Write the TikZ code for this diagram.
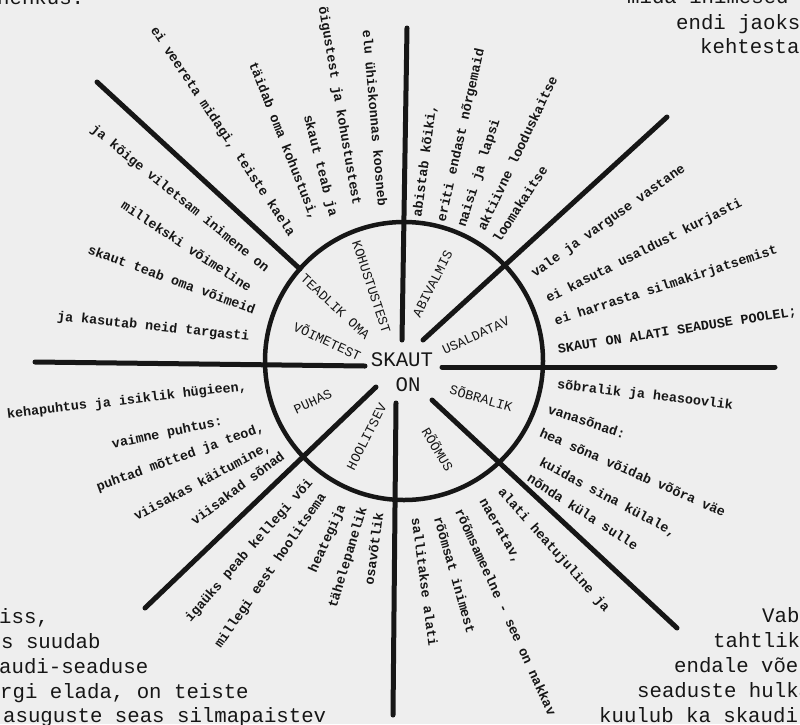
\documentclass[tikz,border=0pt]{standalone}
\usepackage{fontspec}
\newfontfamily\twmono{Liberation Mono}
\definecolor{bg}{HTML}{EEEEEE}
\definecolor{ink}{HTML}{161616}
\newcommand\twsmall{\twmono\fontsize{13.4}{15}\selectfont}
\newcommand\twbig{\twmono\fontsize{20.7}{25}\selectfont}
\begin{document}
\begin{tikzpicture}[x=1pt,y=-1pt,
 spoke/.style={line width=5pt,line cap=round,draw=ink},
 ring/.style={line width=4.5pt,draw=ink},
 lbl/.style={font=\twsmall\bfseries,text=ink,anchor=west,inner sep=0pt,text height=6.8pt,text depth=0pt},
 capl/.style={font=\twsmall,text=ink,anchor=center,inner sep=0pt,text height=8pt,text depth=0pt},
 bigc/.style={font=\twbig,text=ink,anchor=center,inner sep=0pt,text height=12.4pt,text depth=0pt},
 big/.style={font=\twbig,text=ink,anchor=base west,inner sep=0pt},
]
\fill[bg] (0,0) rectangle (800,724);
\useasboundingbox (0,0) rectangle (800,724);
\clip (0,0) rectangle (800,724);

% spoke end points
\coordinate (t1) at (407,28);  \coordinate (t2) at (402,340);
\coordinate (b1) at (396,403); \coordinate (b2) at (393,715);
\coordinate (l1) at (35,362);  \coordinate (l2) at (365,366);
\coordinate (r1) at (442,367); \coordinate (r2) at (775,367);
\coordinate (ul1) at (97,82);  \coordinate (ul2) at (300,269);
\coordinate (ur1) at (667,117); \coordinate (ur2) at (423,340);
\coordinate (ll1) at (145,608); \coordinate (ll2) at (376,387);
\coordinate (lr1) at (432,400); \coordinate (lr2) at (677,628);
\coordinate (ctr) at (404,361);

\draw[ring] (ctr) circle[radius=139pt];

\foreach \a/\b in {t1/t2,b1/b2,l1/l2,r1/r2,ul1/ul2,ur1/ur2,ll1/ll2,lr1/lr2}
  \draw[spoke] (\a) -- (\b);

% centre
\node[bigc] (skaut) at (402,360) {SKAUT};
\node[bigc] (on) at (408,385) {ON};

% inner labels
\node[capl,rotate=-42.7] (c1) at (335,307) {TEADLIK OMA};
\node[capl,rotate=-24.8] (c2) at (327,342) {VÕIMETEST};
\node[capl,rotate=-71.6] (c3) at (371,287) {KOHUSTUSTEST};
\node[capl,rotate=63] (c4) at (433,284) {ABIVALMIS};
\node[capl,rotate=24.8] (c5) at (476,336) {USALDATAV};
\node[capl,rotate=-16] (c6) at (481,399) {SÕBRALIK};
\node[capl,rotate=24.7] (c7) at (313,402) {PUHAS};
\node[capl,rotate=63] (c8) at (367,437) {HOOLITSEV};
\node[capl,rotate=-59] (c9) at (437,450) {RÕÕMUS};

% sector A
\node[lbl,rotate=-56.2] (a1) at (153,28) {ei veereta midagi, teiste kaela};
\node[lbl,rotate=-68.4] (a2) at (252,63) {täidab oma kohustusi,};
\node[lbl,rotate=-75.7] (a3) at (307,115) {skaut teab ja};
\node[lbl,rotate=-80.2] (a4) at (322,7) {õigustest ja kohustustest};
\node[lbl,rotate=-85] (a5) at (366,30) {elu ühiskonnas koosneb};
% sector B
\node[lbl,rotate=-39] (b1t) at (92,128) {ja kõige viletsam inimene on};
\node[lbl,rotate=-33.4] (b2t) at (122,205) {millekski võimeline};
\node[lbl,rotate=-20.1] (b3t) at (88,250) {skaut teab oma võimeid};
\node[lbl,rotate=-6] (b4t) at (57,317) {ja kasutab neid targasti};
% sector C
\node[lbl,rotate=82.4] (c1t) at (418,217) {abistab kõiki,};
\node[lbl,rotate=77.3] (c2t) at (442,222) {eriti endast nõrgemaid};
\node[lbl,rotate=72.2] (c3t) at (462,227) {naisi ja lapsi};
\node[lbl,rotate=64.5] (c4t) at (482,230) {aktiivne looduskaitse};
\node[lbl,rotate=57] (c5t) at (497,242) {loomakaitse};
% sector D
\node[lbl,rotate=35.4] (d1) at (533,275) {vale ja varguse vastane};
\node[lbl,rotate=26.6] (d2) at (547,300) {ei kasuta usaldust kurjasti};
\node[lbl,rotate=17.9] (d3) at (555,322) {ei harrasta silmakirjatsemist};
\node[lbl,rotate=9] (d4) at (558,350) {SKAUT ON ALATI SEADUSE POOLEL;};
% sector E
\node[lbl,rotate=-6.8] (e1) at (557,385) {sõbralik ja heasoovlik};
\node[lbl,rotate=-18.4] (e2) at (548,410) {vanasõnad:};
\node[lbl,rotate=-23.6] (e3) at (540,433) {hea sõna võidab võõra väe};
\node[lbl,rotate=-28.1] (e4) at (540,462) {kuidas sina külale,};
\node[lbl,rotate=-32.8] (e5) at (528,478) {nõnda küla sulle};
% sector F
\node[lbl,rotate=-48.3] (f1) at (500,490) {alati heatujuline ja};
\node[lbl,rotate=-60.3] (f2) at (482,500) {naeratav,};
\node[lbl,rotate=-65.5] (f3) at (458,510) {rõõmsameelne - see on nakkav};
\node[lbl,rotate=-74.1] (f4) at (437,517) {rõõmsat inimest};
\node[lbl,rotate=-82.4] (f5) at (415,518) {sallitakse alati};
% sector G
\node[lbl,rotate=48.5] (g1) at (188,620) {igaüks peab kellegi või};
\node[lbl,rotate=55.2] (g2) at (218,647) {millegi eest hoolitsema};
\node[lbl,rotate=65.9] (g3) at (313,572) {heategija};
\node[lbl,rotate=73] (g4) at (333,608) {tähelepanelik};
\node[lbl,rotate=82] (g5) at (370,585) {osavõtlik};
% sector H
\node[lbl,rotate=6.7] (h1) at (7,415) {kehapuhtus ja isiklik hügieen,};
\node[lbl,rotate=11.8] (h2) at (112,445) {vaimne puhtus:};
\node[lbl,rotate=19.9] (h3) at (97,488) {puhtad mõtted ja teod,};
\node[lbl,rotate=27.9] (h4) at (135,518) {viisakas käitumine,};
\node[lbl,rotate=36.7] (h5) at (193,523) {viisakad sõnad};

% corner paragraphs
\node[big] (p1) at (-3,4) {nenkus.};
\node[big] (q1) at (627,3) {mida inimesed};
\node[big] (q2) at (676,29) {endi jaoks};
\node[big] (q3) at (700,53) {kehtesta};
\node[big] (s1) at (-1,623) {iss,};
\node[big] (s2) at (1,648) {s suudab};
\node[big] (s3) at (-1,673) {audi-seaduse};
\node[big] (s4) at (0,698) {rgi elada, on teiste};
\node[big] (s5) at (3,722) {asuguste seas silmapaistev};
\node[big] (v1) at (762,622) {Vaba};
\node[big] (v2) at (713,647) {tahtlik};
\node[big] (v3) at (674,672) {endale võet};
\node[big] (v4) at (637,697) {seaduste hulka};
\node[big] (v5) at (599,722) {kuulub ka skaudi-};
\end{tikzpicture}
\end{document}
